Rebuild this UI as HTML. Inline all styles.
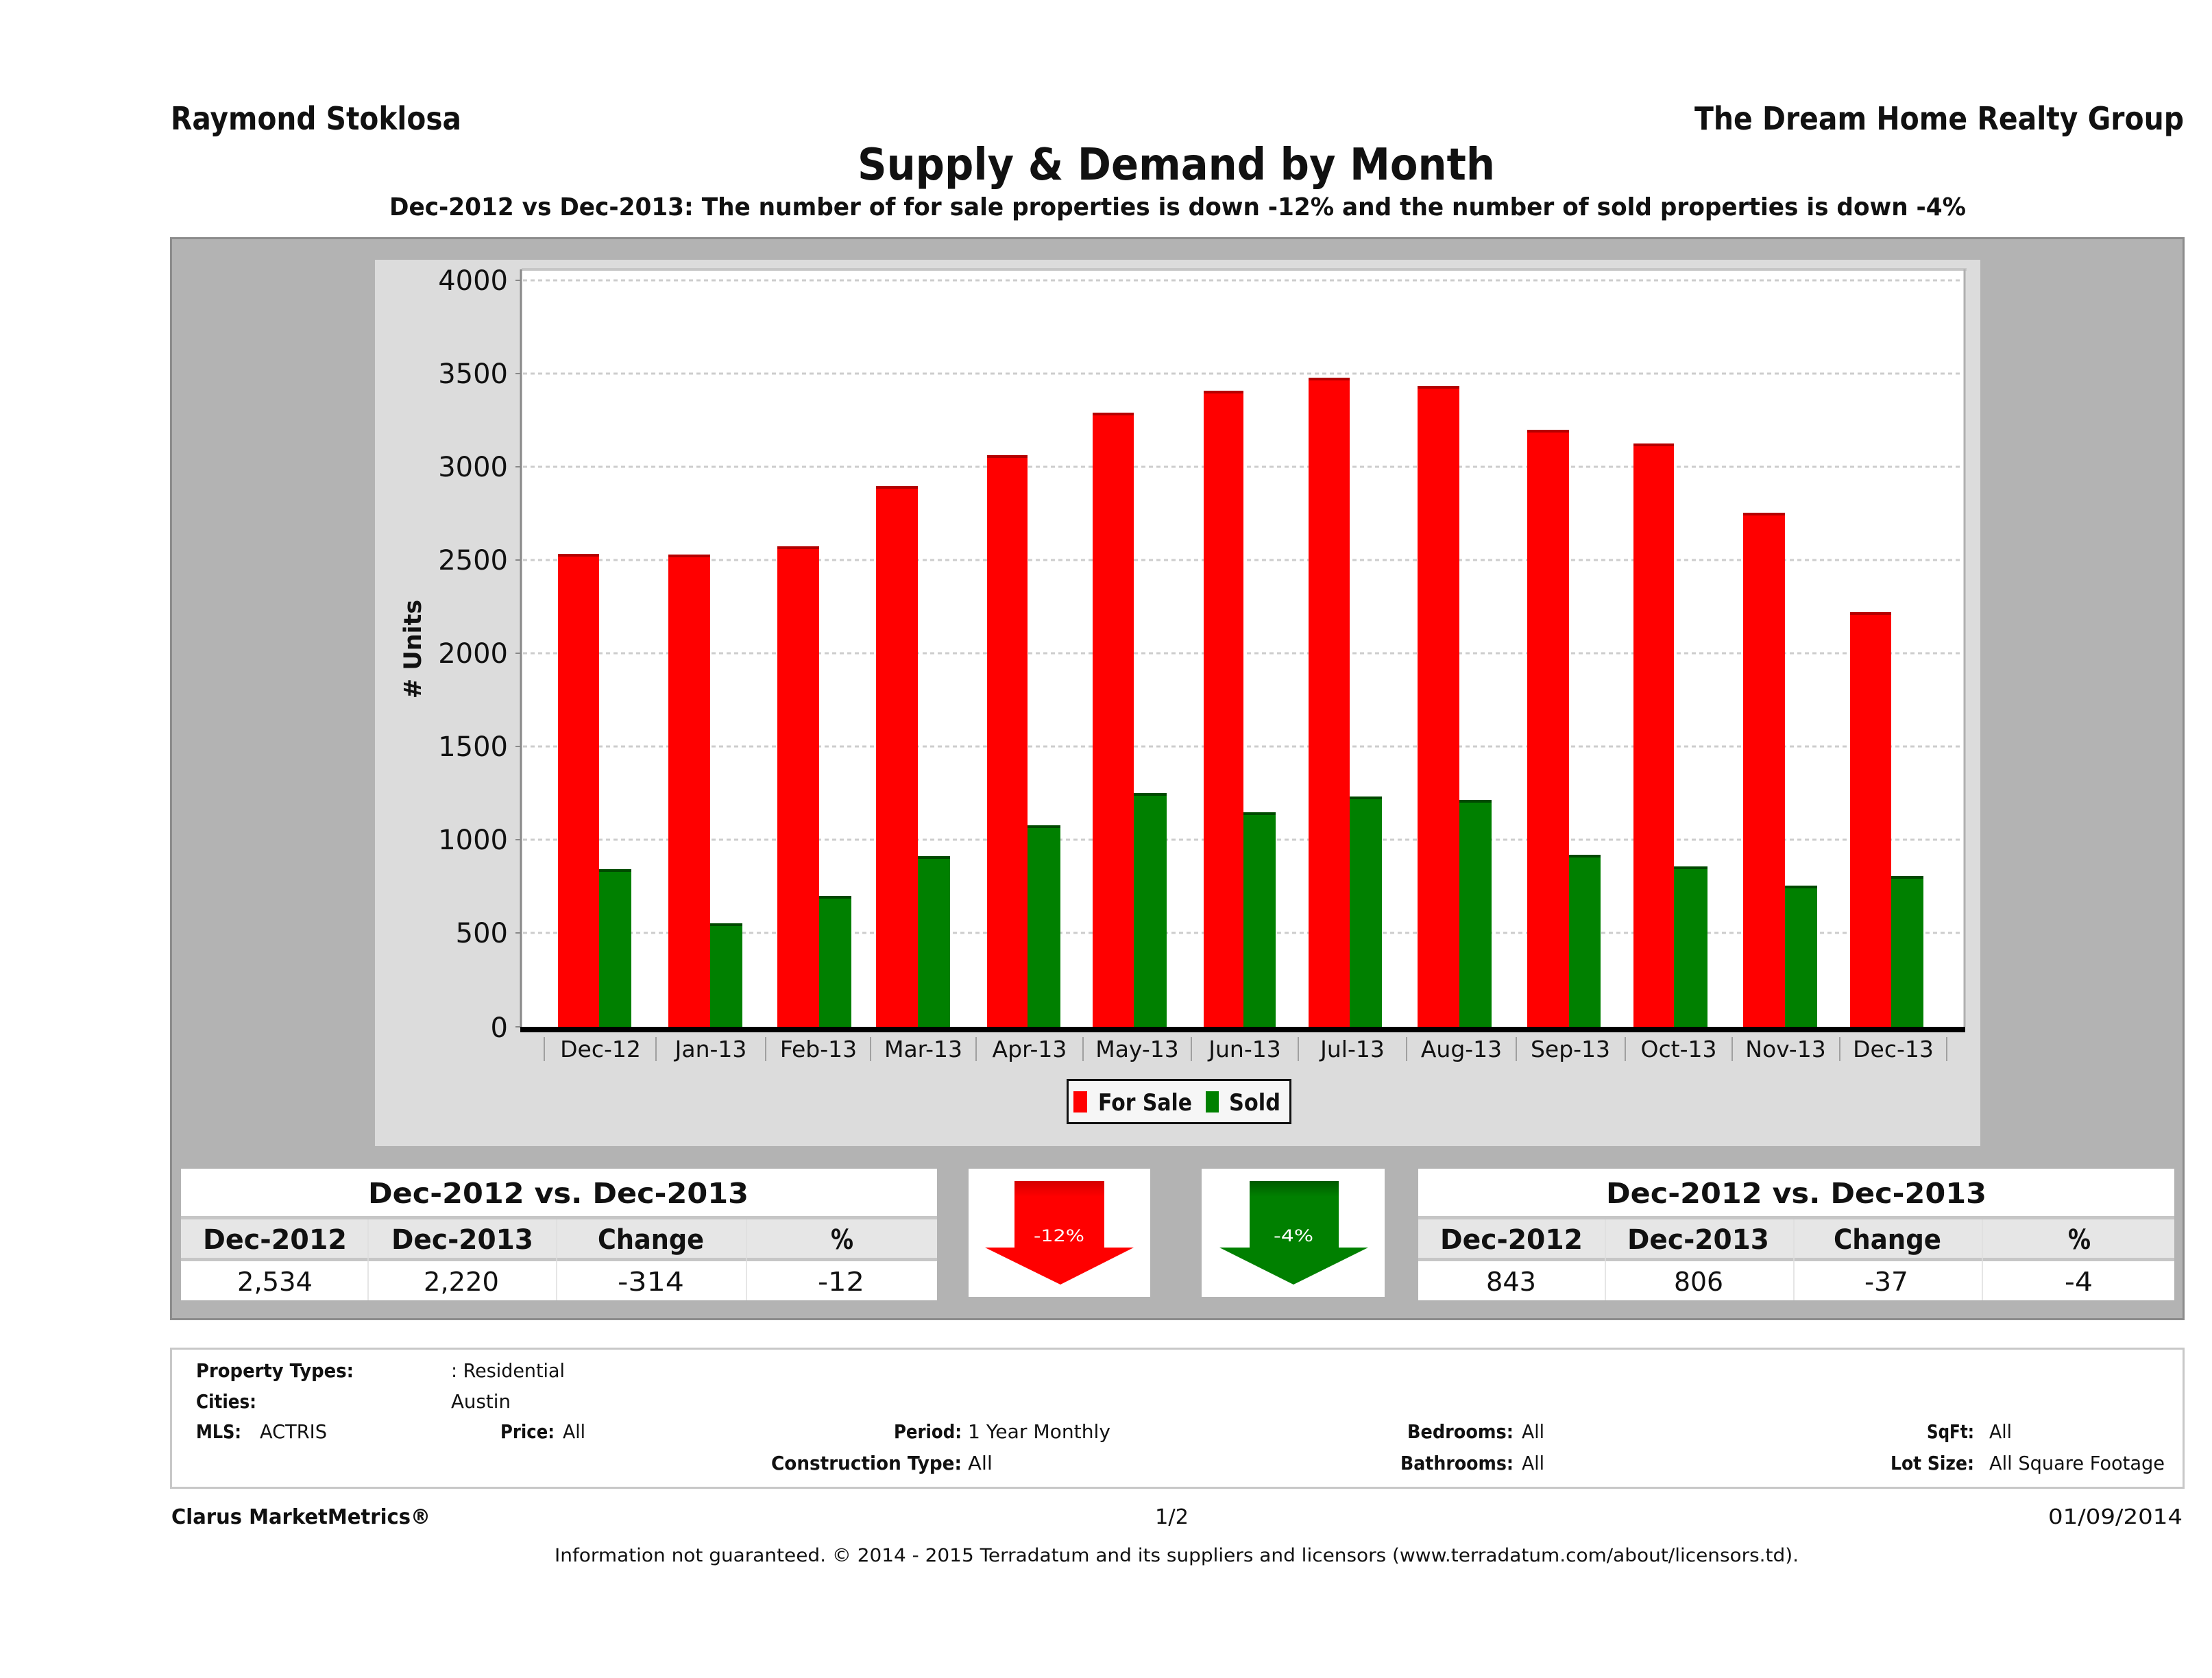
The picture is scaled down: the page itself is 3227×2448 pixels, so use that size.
<!DOCTYPE html>
<html><head><meta charset="utf-8"><style>
html,body{margin:0;padding:0;background:#fff;}
svg{display:block;}
text{font-family:"DejaVu Sans","Liberation Sans",sans-serif;fill:#111;}
.b{font-weight:bold;}
</style></head><body>
<svg width="3227" height="2448" viewBox="0 0 3227 2448" xmlns="http://www.w3.org/2000/svg">
<defs>
<linearGradient id="ra" x1="0" y1="0" x2="0" y2="1"><stop offset="0" stop-color="#d40000"/><stop offset="0.15" stop-color="#ff0000"/><stop offset="1" stop-color="#ff0000"/></linearGradient>
<linearGradient id="ga" x1="0" y1="0" x2="0" y2="1"><stop offset="0" stop-color="#005a00"/><stop offset="0.15" stop-color="#008000"/><stop offset="1" stop-color="#008000"/></linearGradient>
</defs>
<rect x="0" y="0" width="3227" height="2448" fill="#fff"/>

<!-- header -->
<text class="b" x="249" y="189" font-size="46" textLength="424" lengthAdjust="spacingAndGlyphs">Raymond Stoklosa</text>
<text class="b" x="2472" y="189" font-size="46" textLength="714" lengthAdjust="spacingAndGlyphs">The Dream Home Realty Group</text>
<text class="b" x="1251" y="262" font-size="64" textLength="930" lengthAdjust="spacingAndGlyphs">Supply &amp; Demand by Month</text>
<text class="b" x="568" y="314" font-size="36" textLength="2300" lengthAdjust="spacingAndGlyphs">Dec-2012 vs Dec-2013: The number of for sale properties is down -12% and the number of sold properties is down -4%</text>

<!-- gray panel -->
<rect x="249.5" y="347.5" width="2936" height="1577" fill="#b3b3b3" stroke="#8c8c8c" stroke-width="3"/>
<rect x="547" y="379" width="2342" height="1293" fill="#dcdcdc"/>

<!-- plot -->
<rect x="761" y="393" width="2104" height="1105" fill="#fff"/>
<rect x="761" y="391" width="2108" height="4" fill="#c6c6c6"/>
<line x1="2866" y1="393" x2="2866" y2="1498" stroke="#b0b0b0" stroke-width="3"/>
<g stroke="#cdcdcd" stroke-width="3" stroke-dasharray="6,5">
<line x1="763" y1="1361" x2="2864" y2="1361"/>
<line x1="763" y1="1225" x2="2864" y2="1225"/>
<line x1="763" y1="1089" x2="2864" y2="1089"/>
<line x1="763" y1="953" x2="2864" y2="953"/>
<line x1="763" y1="817" x2="2864" y2="817"/>
<line x1="763" y1="681" x2="2864" y2="681"/>
<line x1="763" y1="545" x2="2864" y2="545"/>
<line x1="763" y1="409" x2="2864" y2="409"/>
</g>
<line x1="760" y1="393" x2="760" y2="1500" stroke="#888" stroke-width="3"/>
<g stroke="#888" stroke-width="2">
<line x1="752" y1="1498" x2="760" y2="1498"/>
<line x1="752" y1="1361" x2="760" y2="1361"/>
<line x1="752" y1="1225" x2="760" y2="1225"/>
<line x1="752" y1="1089" x2="760" y2="1089"/>
<line x1="752" y1="953" x2="760" y2="953"/>
<line x1="752" y1="817" x2="760" y2="817"/>
<line x1="752" y1="681" x2="760" y2="681"/>
<line x1="752" y1="545" x2="760" y2="545"/>
<line x1="752" y1="409" x2="760" y2="409"/>
</g>
<g font-size="40" text-anchor="end" fill="#1a1a1a">
<text x="741" y="1513">0</text>
<text x="741" y="1375">500</text>
<text x="741" y="1239">1000</text>
<text x="741" y="1103">1500</text>
<text x="741" y="967">2000</text>
<text x="741" y="831">2500</text>
<text x="741" y="695">3000</text>
<text x="741" y="559">3500</text>
<text x="741" y="423">4000</text>
</g>
<text class="b" font-size="35" text-anchor="middle" transform="translate(614,947) rotate(-90)">
# Units</text>

<!-- red bars -->
<g fill="#ff0000">
<rect x="814" y="808" width="60" height="690"/>
<rect x="975" y="809" width="61" height="689"/>
<rect x="1134" y="797" width="61" height="701"/>
<rect x="1278" y="709" width="61" height="789"/>
<rect x="1440" y="664" width="59" height="834"/>
<rect x="1594" y="602" width="60" height="896"/>
<rect x="1756" y="570" width="58" height="928"/>
<rect x="1909" y="551" width="60" height="947"/>
<rect x="2068" y="563" width="61" height="935"/>
<rect x="2228" y="627" width="61" height="871"/>
<rect x="2383" y="647" width="59" height="851"/>
<rect x="2543" y="748" width="61" height="750"/>
<rect x="2699" y="893" width="60" height="605"/>
</g>
<g fill="#b50000">
<rect x="814" y="808" width="60" height="4"/>
<rect x="975" y="809" width="61" height="4"/>
<rect x="1134" y="797" width="61" height="4"/>
<rect x="1278" y="709" width="61" height="4"/>
<rect x="1440" y="664" width="59" height="4"/>
<rect x="1594" y="602" width="60" height="4"/>
<rect x="1756" y="570" width="58" height="4"/>
<rect x="1909" y="551" width="60" height="4"/>
<rect x="2068" y="563" width="61" height="4"/>
<rect x="2228" y="627" width="61" height="4"/>
<rect x="2383" y="647" width="59" height="4"/>
<rect x="2543" y="748" width="61" height="4"/>
<rect x="2699" y="893" width="60" height="4"/>
</g>
<!-- green bars -->
<g fill="#008000">
<rect x="874" y="1268" width="47" height="230"/>
<rect x="1036" y="1347" width="47" height="151"/>
<rect x="1195" y="1307" width="47" height="191"/>
<rect x="1339" y="1249" width="47" height="249"/>
<rect x="1499" y="1204" width="48" height="294"/>
<rect x="1654" y="1157" width="48" height="341"/>
<rect x="1814" y="1185" width="47" height="313"/>
<rect x="1969" y="1162" width="47" height="336"/>
<rect x="2129" y="1167" width="47" height="331"/>
<rect x="2289" y="1247" width="46" height="251"/>
<rect x="2442" y="1264" width="49" height="234"/>
<rect x="2604" y="1292" width="47" height="206"/>
<rect x="2759" y="1278" width="47" height="220"/>
</g>
<g fill="#004a00">
<rect x="874" y="1268" width="47" height="4"/>
<rect x="1036" y="1347" width="47" height="4"/>
<rect x="1195" y="1307" width="47" height="4"/>
<rect x="1339" y="1249" width="47" height="4"/>
<rect x="1499" y="1204" width="48" height="4"/>
<rect x="1654" y="1157" width="48" height="4"/>
<rect x="1814" y="1185" width="47" height="4"/>
<rect x="1969" y="1162" width="47" height="4"/>
<rect x="2129" y="1167" width="47" height="4"/>
<rect x="2289" y="1247" width="46" height="4"/>
<rect x="2442" y="1264" width="49" height="4"/>
<rect x="2604" y="1292" width="47" height="4"/>
<rect x="2759" y="1278" width="47" height="4"/>
</g>

<!-- x axis -->
<rect x="759" y="1498" width="2108" height="8" fill="#000"/>
<g stroke="#a0a0a0" stroke-width="2">
<line x1="794" y1="1513" x2="794" y2="1548"/>
<line x1="957" y1="1513" x2="957" y2="1548"/>
<line x1="1117" y1="1513" x2="1117" y2="1548"/>
<line x1="1270" y1="1513" x2="1270" y2="1548"/>
<line x1="1424" y1="1513" x2="1424" y2="1548"/>
<line x1="1580" y1="1513" x2="1580" y2="1548"/>
<line x1="1738" y1="1513" x2="1738" y2="1548"/>
<line x1="1894" y1="1513" x2="1894" y2="1548"/>
<line x1="2052" y1="1513" x2="2052" y2="1548"/>
<line x1="2212" y1="1513" x2="2212" y2="1548"/>
<line x1="2371" y1="1513" x2="2371" y2="1548"/>
<line x1="2527" y1="1513" x2="2527" y2="1548"/>
<line x1="2684" y1="1513" x2="2684" y2="1548"/>
<line x1="2840" y1="1513" x2="2840" y2="1548"/>
</g>
<g font-size="33" text-anchor="middle" fill="#1a1a1a">
<text x="876" y="1542">Dec-12</text>
<text x="1037" y="1542">Jan-13</text>
<text x="1194" y="1542">Feb-13</text>
<text x="1347" y="1542">Mar-13</text>
<text x="1502" y="1542">Apr-13</text>
<text x="1659" y="1542">May-13</text>
<text x="1816" y="1542">Jun-13</text>
<text x="1973" y="1542">Jul-13</text>
<text x="2132" y="1542">Aug-13</text>
<text x="2291" y="1542">Sep-13</text>
<text x="2449" y="1542">Oct-13</text>
<text x="2605" y="1542">Nov-13</text>
<text x="2762" y="1542">Dec-13</text>
</g>

<!-- legend -->
<rect x="1557.5" y="1575.5" width="325" height="63" fill="#f6f6f6" stroke="#111" stroke-width="3"/>
<rect x="1566" y="1592" width="20" height="31" fill="#ff0000"/>
<text class="b" x="1602" y="1620" font-size="34" textLength="137" lengthAdjust="spacingAndGlyphs">For Sale</text>
<rect x="1759" y="1592" width="19" height="31" fill="#008000"/>
<text class="b" x="1793" y="1620" font-size="34" textLength="75" lengthAdjust="spacingAndGlyphs">Sold</text>

<!-- left table -->
<rect x="264" y="1705" width="1103" height="69" fill="#fff"/>
<rect x="264" y="1774" width="1103" height="5" fill="#c6c6c6"/>
<rect x="264" y="1779" width="1103" height="56" fill="#e6e6e6"/>
<rect x="264" y="1835" width="1103" height="5" fill="#c6c6c6"/>
<rect x="264" y="1840" width="1103" height="57" fill="#fff"/>
<g stroke="#dedede" stroke-width="1.5">
<line x1="537" y1="1779" x2="537" y2="1897"/>
<line x1="812" y1="1779" x2="812" y2="1897"/>
<line x1="1089" y1="1779" x2="1089" y2="1897"/>
</g>
<text class="b" x="537" y="1755" font-size="41" textLength="555" lengthAdjust="spacingAndGlyphs">Dec-2012 vs. Dec-2013</text>
<g class="b" font-size="40" font-weight="bold">
<text x="296" y="1822" textLength="210" lengthAdjust="spacingAndGlyphs">Dec-2012</text>
<text x="571" y="1822" textLength="207" lengthAdjust="spacingAndGlyphs">Dec-2013</text>
<text x="872" y="1822" textLength="155" lengthAdjust="spacingAndGlyphs">Change</text>
<text x="1212" y="1822" textLength="33" lengthAdjust="spacingAndGlyphs">%</text>
</g>
<g font-size="38">
<text x="346" y="1883" textLength="110" lengthAdjust="spacingAndGlyphs">2,534</text>
<text x="618" y="1883" textLength="110" lengthAdjust="spacingAndGlyphs">2,220</text>
<text x="901" y="1883" textLength="97" lengthAdjust="spacingAndGlyphs">-314</text>
<text x="1193" y="1883" textLength="68" lengthAdjust="spacingAndGlyphs">-12</text>
</g>

<!-- red arrow -->
<rect x="1413" y="1705" width="265" height="187" fill="#fff"/>
<polygon points="1480,1723 1611,1723 1611,1820 1654,1820 1547,1874 1437,1820 1480,1820" fill="url(#ra)"/>
<text x="1508" y="1811" font-size="24" fill="#fff" style="fill:#fff" textLength="74" lengthAdjust="spacingAndGlyphs">-12%</text>

<!-- green arrow -->
<rect x="1753" y="1705" width="267" height="187" fill="#fff"/>
<polygon points="1823,1723 1953,1723 1953,1820 1996,1820 1887,1874 1779,1820 1823,1820" fill="url(#ga)"/>
<text x="1858" y="1811" font-size="24" style="fill:#fff" textLength="58" lengthAdjust="spacingAndGlyphs">-4%</text>

<!-- right table -->
<rect x="2069" y="1705" width="1103" height="69" fill="#fff"/>
<rect x="2069" y="1774" width="1103" height="5" fill="#c6c6c6"/>
<rect x="2069" y="1779" width="1103" height="56" fill="#e6e6e6"/>
<rect x="2069" y="1835" width="1103" height="5" fill="#c6c6c6"/>
<rect x="2069" y="1840" width="1103" height="57" fill="#fff"/>
<g stroke="#dedede" stroke-width="1.5">
<line x1="2342" y1="1779" x2="2342" y2="1897"/>
<line x1="2617" y1="1779" x2="2617" y2="1897"/>
<line x1="2892" y1="1779" x2="2892" y2="1897"/>
</g>
<text class="b" x="2343" y="1755" font-size="41" textLength="555" lengthAdjust="spacingAndGlyphs">Dec-2012 vs. Dec-2013</text>
<g font-size="40" font-weight="bold">
<text x="2101" y="1822" textLength="208" lengthAdjust="spacingAndGlyphs">Dec-2012</text>
<text x="2374" y="1822" textLength="207" lengthAdjust="spacingAndGlyphs">Dec-2013</text>
<text x="2675" y="1822" textLength="157" lengthAdjust="spacingAndGlyphs">Change</text>
<text x="3017" y="1822" textLength="33" lengthAdjust="spacingAndGlyphs">%</text>
</g>
<g font-size="38">
<text x="2168" y="1883" textLength="73" lengthAdjust="spacingAndGlyphs">843</text>
<text x="2442" y="1883" textLength="72" lengthAdjust="spacingAndGlyphs">806</text>
<text x="2720" y="1883" textLength="64" lengthAdjust="spacingAndGlyphs">-37</text>
<text x="3012" y="1883" textLength="41" lengthAdjust="spacingAndGlyphs">-4</text>
</g>

<!-- info box -->
<rect x="249.5" y="1967.5" width="2936" height="203" fill="#fff" stroke="#c8c8c8" stroke-width="3"/>
<g font-size="28">
<text class="b" x="286" y="2009" textLength="230" lengthAdjust="spacingAndGlyphs">Property Types:</text>
<text x="658" y="2009" textLength="166" lengthAdjust="spacingAndGlyphs">: Residential</text>
<text class="b" x="286" y="2054" textLength="88" lengthAdjust="spacingAndGlyphs">Cities:</text>
<text x="658" y="2054" textLength="87" lengthAdjust="spacingAndGlyphs">Austin</text>
<text class="b" x="286" y="2098" textLength="66" lengthAdjust="spacingAndGlyphs">MLS:</text>
<text x="379" y="2098" textLength="98" lengthAdjust="spacingAndGlyphs">ACTRIS</text>
<text class="b" x="730" y="2098" textLength="79" lengthAdjust="spacingAndGlyphs">Price:</text>
<text x="821" y="2098" textLength="33" lengthAdjust="spacingAndGlyphs">All</text>
<text class="b" x="1304" y="2098" textLength="99" lengthAdjust="spacingAndGlyphs">Period:</text>
<text x="1412" y="2098" textLength="208" lengthAdjust="spacingAndGlyphs">1 Year Monthly</text>
<text class="b" x="1125" y="2144" textLength="278" lengthAdjust="spacingAndGlyphs">Construction Type:</text>
<text x="1412" y="2144" textLength="36" lengthAdjust="spacingAndGlyphs">All</text>
<text class="b" x="2053" y="2098" textLength="155" lengthAdjust="spacingAndGlyphs">Bedrooms:</text>
<text x="2220" y="2098" textLength="33" lengthAdjust="spacingAndGlyphs">All</text>
<text class="b" x="2043" y="2144" textLength="165" lengthAdjust="spacingAndGlyphs">Bathrooms:</text>
<text x="2220" y="2144" textLength="33" lengthAdjust="spacingAndGlyphs">All</text>
<text class="b" x="2811" y="2098" textLength="69" lengthAdjust="spacingAndGlyphs">SqFt:</text>
<text x="2902" y="2098" textLength="33" lengthAdjust="spacingAndGlyphs">All</text>
<text class="b" x="2758" y="2144" textLength="122" lengthAdjust="spacingAndGlyphs">Lot Size:</text>
<text x="2902" y="2144" textLength="256" lengthAdjust="spacingAndGlyphs">All Square Footage</text>
</g>

<!-- footer -->
<text class="b" x="250" y="2223" font-size="30" textLength="378" lengthAdjust="spacingAndGlyphs">Clarus MarketMetrics®</text>
<text x="1685" y="2223" font-size="30" textLength="49" lengthAdjust="spacingAndGlyphs">1/2</text>
<text x="2988" y="2223" font-size="30" textLength="196" lengthAdjust="spacingAndGlyphs">01/09/2014</text>
<text x="809" y="2278" font-size="27" textLength="1815" lengthAdjust="spacingAndGlyphs">Information not guaranteed. © 2014 - 2015 Terradatum and its suppliers and licensors (www.terradatum.com/about/licensors.td).</text>
</svg>
</body></html>
